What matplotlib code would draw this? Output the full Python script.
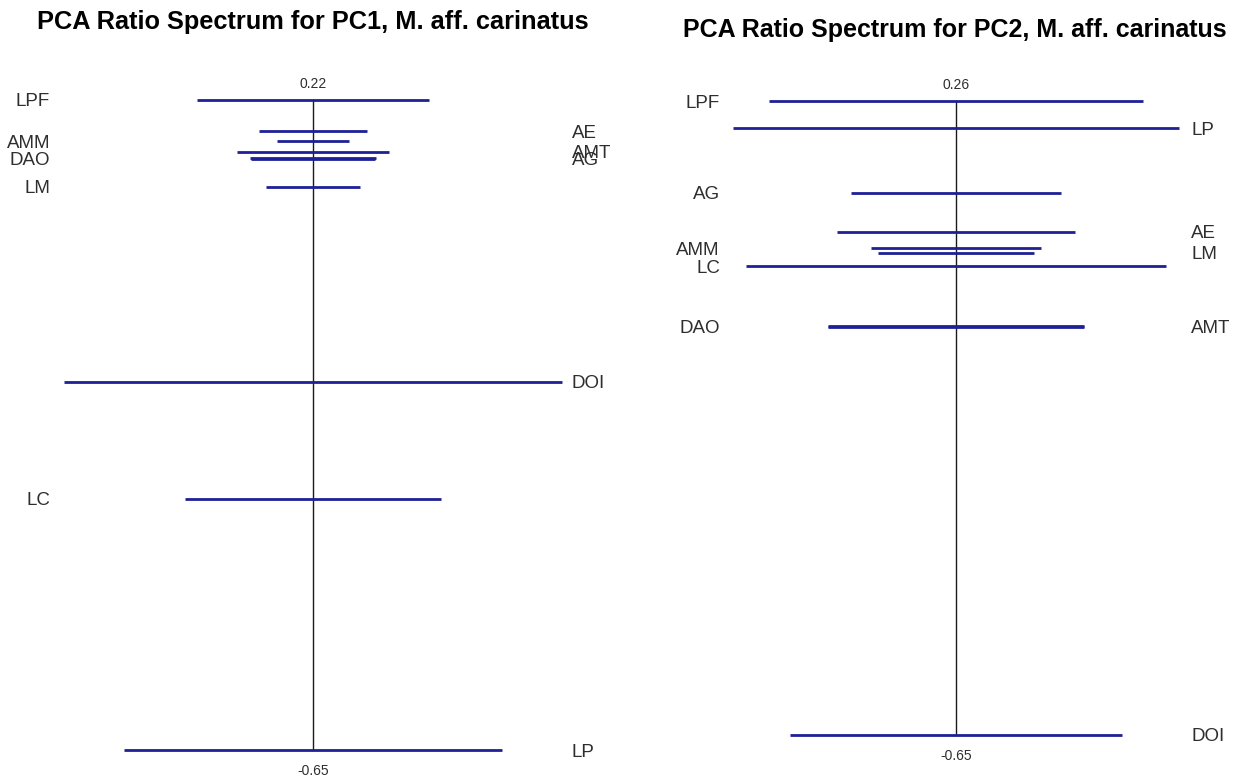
import matplotlib
matplotlib.use("Agg")
import matplotlib.pyplot as plt

plt.rcParams["font.family"] = ["Liberation Sans", "DejaVu Sans"]

# PC1: ratio value (vertical position) and half-width of the interval bar
pc1_vars = ["LPF", "AE", "AMM", "AMT", "DAO", "AG", "LM", "DOI", "LC", "LP"]
pc1_ratio = [0.22, 0.178, 0.165, 0.151, 0.142, 0.141, 0.104, -0.157, -0.314, -0.65]
pc1_halfwidth = [0.464, 0.215, 0.146, 0.305, 0.255, 0.25, 0.187, 1.0, 0.516, 0.761]

# PC2
pc2_vars = ["LPF", "LP", "AG", "AE", "AMM", "LM", "LC", "AMT", "DAO", "DOI"]
pc2_ratio = [0.26, 0.221, 0.128, 0.072, 0.049, 0.042, 0.023, -0.063, -0.064, -0.65]
pc2_halfwidth = [0.753, 0.896, 0.420, 0.478, 0.341, 0.315, 0.845, 0.514, 0.514, 0.667]

titles = ["PCA Ratio Spectrum for PC1, M. aff. carinatus",
          "PCA Ratio Spectrum for PC2, M. aff. carinatus"]

BAR_COLOR = "#1f1f96"
LABEL_COLOR = "#2e2e2e"

W, H = 1242, 779
fig = plt.figure(figsize=(W / 100, H / 100), dpi=100)


def spectrum(ax, names, ratio, halfwidth, xlim, ylim, label_x):
    ax.set_xlim(*xlim)
    ax.set_ylim(*ylim)
    ax.axis("off")
    top, bottom = max(ratio), min(ratio)
    ax.plot([0, 0], [bottom, top], color="#1a1a1a", lw=1.0, zorder=1)
    for n, r, h in zip(names, ratio, halfwidth):
        ax.plot([-h, h], [r, r], color=BAR_COLOR, lw=2.0, solid_capstyle="butt", zorder=2)
    # labels alternate sides following the ranking of the ratios
    order = sorted(range(len(ratio)), key=lambda i: -ratio[i])
    for rank, i in enumerate(order):
        if rank % 2 == 0:
            ax.text(label_x[0], ratio[i], names[i], ha="right", va="center_baseline",
                    fontsize=13.5, color=LABEL_COLOR)
        else:
            ax.text(label_x[1], ratio[i], names[i], ha="left", va="center_baseline",
                    fontsize=13.5, color=LABEL_COLOR)
    ax.annotate(f"{top:.2f}", (0, top), xytext=(0, 11.5), textcoords="offset points",
                ha="center", va="center", fontsize=10, color=LABEL_COLOR)
    ax.annotate(f"{bottom:.2f}", (0, bottom), xytext=(0, -15), textcoords="offset points",
                ha="center", va="center", fontsize=10, color=LABEL_COLOR)


ax1 = fig.add_axes([0, 0, 0.5, 1])
spectrum(ax1, pc1_vars, pc1_ratio, pc1_halfwidth,
         xlim=(-313 / 249, 308 / 249), ylim=(-0.6888, 0.3538),
         label_x=(-1.056, 1.040))

ax2 = fig.add_axes([0.5, 0, 0.5, 1])
spectrum(ax2, pc2_vars, pc2_ratio, pc2_halfwidth,
         xlim=(-335 / 249, 286 / 249), ylim=(-0.7132, 0.405),
         label_x=(-0.948, 0.944))

fig.text(312.5 / W, 1 - 22 / H, titles[0], ha="center", va="center",
         fontsize=18.3, fontweight="bold")
fig.text(954.5 / W, 1 - 30 / H, titles[1], ha="center", va="center",
         fontsize=18.0, fontweight="bold")

fig.savefig("out.png", dpi=100)
